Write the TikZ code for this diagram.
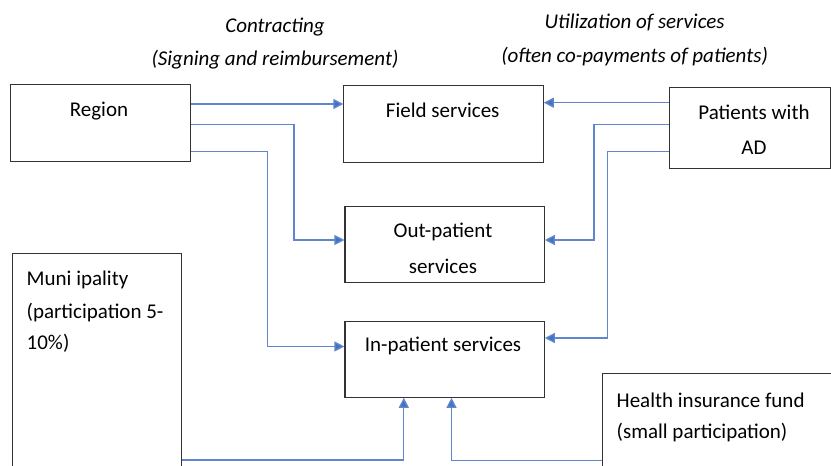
\documentclass[tikz,border=0pt]{standalone}
\usepackage{fontspec}
\setmainfont{Carlito}
\usetikzlibrary{arrows.meta,calc}
\definecolor{lineblue}{HTML}{4472C4}
\definecolor{boxgray}{HTML}{333333}
\begin{document}
\begin{tikzpicture}[x=1pt,y=-1pt,
  box/.style={draw=boxgray,line width=1.1pt,rectangle,inner sep=0pt,anchor=north west},
  txt/.style={inner sep=0pt,font=\fontsize{21}{24}\selectfont},
  ltxt/.style={txt,anchor=west},
  itxt/.style={txt,font=\fontsize{21}{24}\selectfont\itshape},
  conn/.style={draw=lineblue!85,line width=1.3pt,-{Triangle[length=10pt,width=10pt,fill=lineblue]}}
]
\clip (0,0) rectangle (831,466);
% boxes
\node[box,minimum width=180pt,minimum height=77pt] (region) at (9.5,84.3) {};
\node[box,minimum width=199.4pt,minimum height=76.7pt] (field) at (343.3,85.3) {};
\node[box,minimum width=161pt,minimum height=81pt] (patients) at (669.3,87.3) {};
\node[box,minimum width=199.3pt,minimum height=76pt] (out) at (344.4,206) {};
\node[box,minimum width=199.3pt,minimum height=76.2pt] (in) at (344.4,320.5) {};
\node[box,minimum width=169.3pt,minimum height=220pt] (muni) at (11.7,252.7) {};
\node[box,minimum width=240pt,minimum height=100pt] (health) at (601.5,372.7) {};
% texts
\node[itxt] (t1) at (275,26.7) {Contracting};
\node[itxt] (t2) at (275,60) {(Signing and reimbursement)};
\node[itxt] (t3) at (634.6,22) {Utilization of services};
\node[itxt] (t4) at (634.6,57) {(often co-payments of patients)};
\node[txt] (regiont) at (99,110.7) {Region};
\node[txt] (fieldt) at (442.7,110.7) {Field services};
\node[txt] (patt1) at (754,112) {Patients with};
\node[txt] (patt2) at (754,148) {AD};
\node[txt] (outt1) at (443,231.7) {Out-patient};
\node[txt] (outt2) at (443,266) {services};
\node[txt] (int) at (443,346) {In-patient services};
\node[ltxt] (munit1) at (26.5,280) {Muni ipality};
\node[ltxt] (munit2) at (26.5,313) {(participation 5-};
\node[ltxt] (munit3) at (26.5,343) {10\%)};
\node[ltxt] (healtht1) at (616.5,400) {Health insurance fund};
\node[ltxt] (healtht2) at (616.5,433) {(small participation)};
% connectors
\coordinate (r1) at (region.east |- 0,104);
\coordinate (r2) at (region.east |- 0,124.3);
\coordinate (r3) at (region.east |- 0,151.7);
\coordinate (p1) at (patients.west |- 0,102.7);
\coordinate (p2) at (patients.west |- 0,124.3);
\coordinate (p3) at (patients.west |- 0,151.7);
\coordinate (m1) at (muni.east |- 0,460);
\coordinate (h1) at (health.west |- 0,460.5);
\draw[conn] (r1) -- (field.west |- r1);
\draw[conn] (r2) -| (294,240) -- (out.west |- 0,240);
\draw[conn] (r3) -| (267.3,346.5) -- (in.west |- 0,346.5);
\draw[conn] (p1) -- (field.east |- p1);
\draw[conn] (p2) -| (594,240) -- (out.east |- 0,240);
\draw[conn] (p3) -| (607.3,338) -- (in.east |- 0,338);
\draw[conn] (m1) -| (in.south -| 403.8,0);
\draw[conn] (h1) -| (in.south -| 451.5,0);
\end{tikzpicture}
\end{document}
